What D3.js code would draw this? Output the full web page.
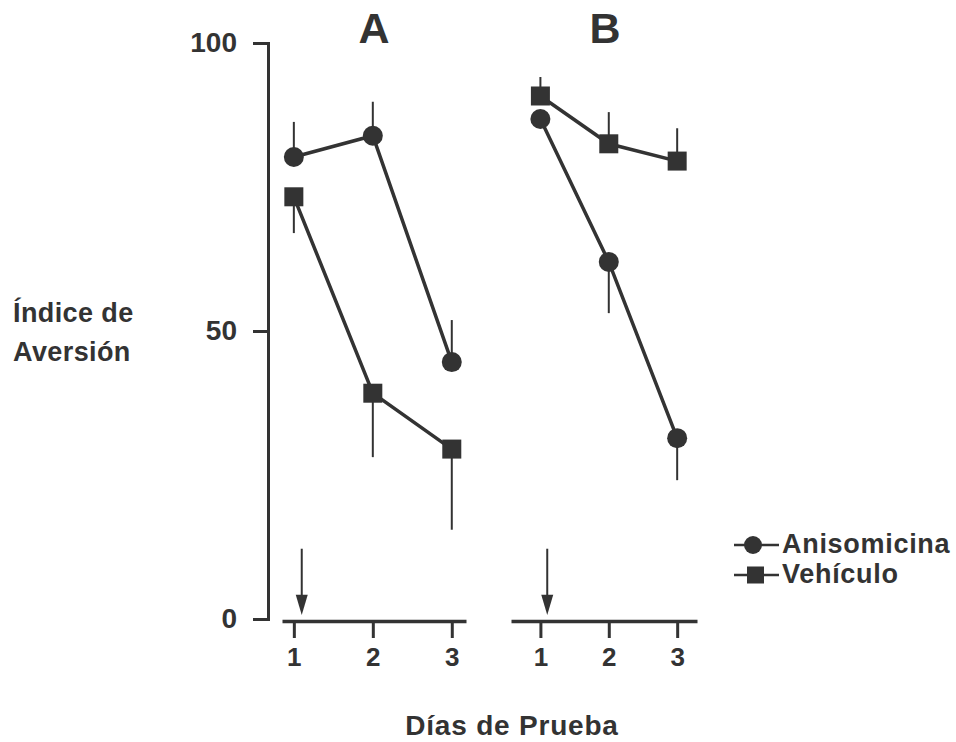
<!DOCTYPE html>
<html>
<head>
<meta charset="utf-8">
<script src="https://cdn.jsdelivr.net/npm/d3@7"></script>
<style>
  body { margin: 0; background: #fff; }
  text { font-family: "Liberation Sans", Arial, sans-serif; font-weight: bold; fill: #333; }
</style>
</head>
<body>
<div id="chart"></div>
<script>
// data
var days = [1, 2, 3];
var panels = ["A", "B"];
var yTicks = [0, 50, 100];

// panel A
var aAniso = [80.2, 83.9, 44.6];
var aAnisoErr = [6.1, 5.9, 7.3];     // drawn upward
var aVeh = [73.3, 39.2, 29.5];
var aVehErr = [6.3, 11.1, 14.0];      // drawn downward

// panel B
var bAniso = [86.8, 62.0, 31.4];
var bAnisoErr = [0, 8.9, 7.3];        // drawn downward
var bVeh = [90.8, 82.5, 79.5];
var bVehErr = [3.3, 5.5, 5.7];        // drawn upward

var arrowDay = 1.1;

var series = [
  {panel: "A", name: "Anisomicina", shape: "circle", values: aAniso, err: aAnisoErr, dir: 1},
  {panel: "A", name: "Vehículo", shape: "square", values: aVeh, err: aVehErr, dir: -1},
  {panel: "B", name: "Anisomicina", shape: "circle", values: bAniso, err: bAnisoErr, dir: -1},
  {panel: "B", name: "Vehículo", shape: "square", values: bVeh, err: bVehErr, dir: 1}
];

var width = 956, height = 742;
var ink = "#333";

var svg = d3.select("#chart").append("svg")
    .attr("width", width)
    .attr("height", height);

var y = d3.scaleLinear().domain([0, 100]).range([619, 43]);

var x = {
  A: d3.scaleLinear().domain([0.85, 3.18]).range([282, 466]),
  B: d3.scaleLinear().domain([0.57, 3.29]).range([511, 697])
};

// y axis
var yAxis = svg.append("g")
    .attr("transform", "translate(268,0)")
    .call(d3.axisLeft(y).tickValues(yTicks).tickSize(15).tickPadding(16));
yAxis.select(".domain").attr("stroke", ink).attr("stroke-width", 3).attr("fill", "none");
yAxis.selectAll(".tick line").attr("stroke", ink).attr("stroke-width", 3);
yAxis.selectAll(".tick text")
    .attr("fill", ink)
    .style("font-size", "28px")
    .style("font-family", "Liberation Sans, Arial, sans-serif")
    .style("font-weight", "bold");

// x axes
panels.forEach(function(p){
  var g = svg.append("g")
      .attr("transform", "translate(0,621)")
      .call(d3.axisBottom(x[p]).tickValues(days).tickSize(17).tickSizeOuter(0).tickPadding(10).tickFormat(d3.format("d")));
  g.select(".domain").attr("stroke", ink).attr("stroke-width", 3.5);
  g.selectAll(".tick line").attr("stroke", ink).attr("stroke-width", 3);
  g.selectAll(".tick text")
      .attr("fill", ink)
      .style("font-size", "26px")
      .style("font-family", "Liberation Sans, Arial, sans-serif")
      .style("font-weight", "bold");

  // panel letter
  svg.append("text")
      .attr("x", p === "A" ? 374 : 605)
      .attr("y", 43)
      .attr("text-anchor", "middle")
      .style("font-size", "43px")
      .text(p);

  // arrow
  var ax = x[p](arrowDay);
  svg.append("line")
      .attr("x1", ax).attr("x2", ax)
      .attr("y1", y(12.2)).attr("y2", y(3))
      .attr("stroke", ink).attr("stroke-width", 2);
  svg.append("path")
      .attr("d", "M" + (ax - 6) + "," + y(4.2) + "L" + (ax + 6) + "," + y(4.2) + "L" + ax + "," + y(0.7) + "Z")
      .attr("fill", ink);
});

var line = d3.line();

series.forEach(function(s){
  var sx = x[s.panel];
  var pts = days.map(function(d, i){ return [sx(d), y(s.values[i])]; });

  // error bars (single sided)
  svg.append("g").selectAll("line")
      .data(days)
      .enter().append("line")
      .attr("x1", function(d){ return sx(d); })
      .attr("x2", function(d){ return sx(d); })
      .attr("y1", function(d, i){ return y(s.values[i]); })
      .attr("y2", function(d, i){ return y(s.values[i] + s.dir * s.err[i]); })
      .attr("stroke", ink)
      .attr("stroke-width", 2);

  svg.append("path")
      .attr("d", line(pts))
      .attr("fill", "none")
      .attr("stroke", ink)
      .attr("stroke-width", 3.5);

  var m = svg.append("g").selectAll(".m")
      .data(pts)
      .enter();
  if (s.shape === "circle") {
    m.append("circle")
        .attr("cx", function(d){ return d[0]; })
        .attr("cy", function(d){ return d[1]; })
        .attr("r", 10)
        .attr("fill", ink);
  } else {
    m.append("rect")
        .attr("x", function(d){ return d[0] - 9.5; })
        .attr("y", function(d){ return d[1] - 9.5; })
        .attr("width", 19)
        .attr("height", 19)
        .attr("fill", ink);
  }
});

// y label
var yl = svg.append("text")
    .style("font-size", "27px")
    .style("letter-spacing", "0.4px");
yl.append("tspan").attr("x", 13).attr("y", 322).text("Índice de");
yl.append("tspan").attr("x", 13).attr("y", 361).text("Aversión");

// x label
svg.append("text")
    .attr("x", 512)
    .attr("y", 735)
    .attr("text-anchor", "middle")
    .style("font-size", "28px")
    .style("letter-spacing", "0.8px")
    .text("Días de Prueba");

// legend
var legend = [
  {name: "Anisomicina", shape: "circle"},
  {name: "Vehículo", shape: "square"}
];
var lg = svg.append("g").attr("transform", "translate(734,545)");
legend.forEach(function(l, i){
  var gy = i * 30;
  lg.append("line")
      .attr("x1", 0).attr("x2", 45)
      .attr("y1", gy).attr("y2", gy)
      .attr("stroke", ink).attr("stroke-width", 2.5);
  if (l.shape === "circle") {
    lg.append("circle").attr("cx", 19).attr("cy", gy).attr("r", 9).attr("fill", ink);
  } else {
    lg.append("rect").attr("x", 13).attr("y", gy - 8.5).attr("width", 17).attr("height", 17).attr("fill", ink);
  }
  lg.append("text")
      .attr("x", 48)
      .attr("y", gy + 8)
      .style("font-size", "27px")
      .style("letter-spacing", "0.7px")
      .text(l.name);
});
</script>
</body>
</html>
